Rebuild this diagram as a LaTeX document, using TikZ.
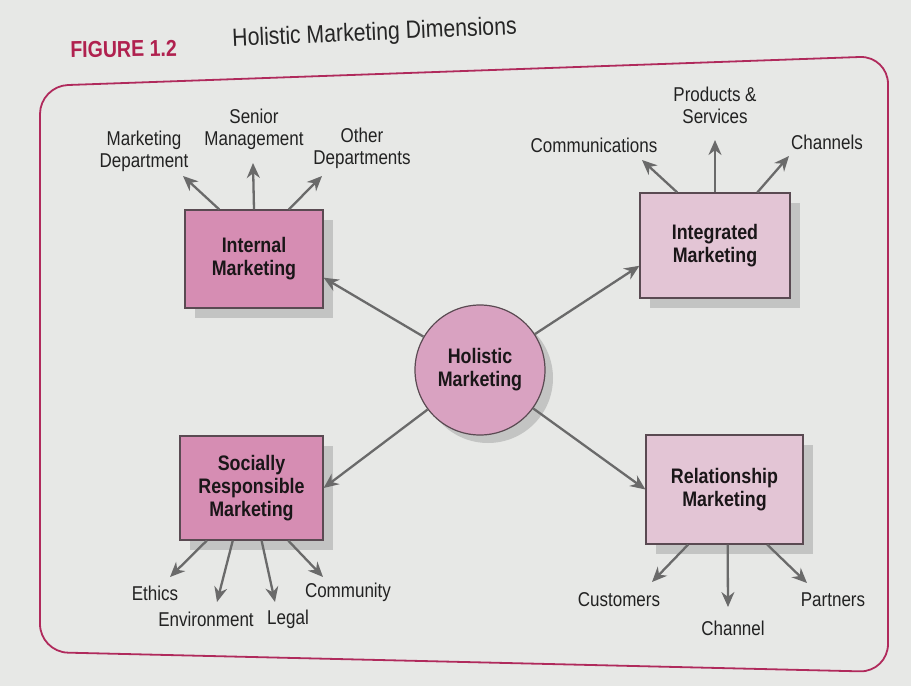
\documentclass[tikz,border=0pt]{standalone}
\usepackage{fontspec}
\setmainfont{Liberation Sans}[FakeStretch=0.85]
\usetikzlibrary{arrows.meta,calc,shadows}

\definecolor{paper}{HTML}{E7E8E6}
\definecolor{framec}{HTML}{B02A5C}
\definecolor{figred}{HTML}{B0214F}
\definecolor{titlec}{HTML}{262626}
\definecolor{pinkdark}{HTML}{D68DB3}
\definecolor{pinklight}{HTML}{E3C5D5}
\definecolor{circc}{HTML}{D9A2C1}
\definecolor{boxline}{HTML}{5A4A52}
\definecolor{boxtextc}{HTML}{1A1618}
\definecolor{labelc}{HTML}{222222}
\definecolor{arrowc}{HTML}{6A6A6A}
\definecolor{shadowc}{HTML}{C3C4C3}

\begin{document}
\begin{tikzpicture}[x=0.5pt,y=-0.5pt,
  arr/.style={draw=arrowc, line width=1.15pt, -{Stealth[length=7.5pt,width=6.5pt]}},
  lbl/.style={font=\fontsize{10}{11}\selectfont, text=labelc, align=center, inner sep=0pt},
  boxtxt/.style={font=\bfseries\fontsize{10.5}{11.5}\selectfont, text=boxtextc, align=center},
  dimbox/.style={boxtxt, draw=boxline, line width=0.6pt, inner sep=0pt,
    drop shadow={shadow xshift=5pt, shadow yshift=-5pt, fill=shadowc, opacity=1}},
  darkbox/.style={dimbox, fill=pinkdark},
  lightbox/.style={dimbox, fill=pinklight},
  frame/.style={draw=framec, line width=0.9pt, rounded corners=14pt}]

% page and outer frame
\useasboundingbox (0,0) rectangle (911,686);
\fill[paper] (0,0) rectangle (911,686);
\draw[frame] (40,86) -- (888,56) -- (888,672) -- (40,652) -- cycle;

% heading
\node[font=\bfseries\fontsize{11.5}{13}\selectfont, text=figred, anchor=west, inner sep=0pt, rotate=1] (fig) at (70,50) {FIGURE 1.2};
\node[font=\fontsize{12.5}{14}\selectfont, text=titlec, anchor=west, inner sep=0pt, rotate=2.5] (ttl) at (232,40) {Holistic Marketing Dimensions};

% centre circle
\node[circle, minimum size=65pt, inner sep=0pt, fill=circc, draw=boxline, line width=0.6pt, boxtxt,
  drop shadow={shadow xshift=4pt, shadow yshift=-4pt, fill=shadowc, opacity=1}] (hm) at (480,370) {Holistic\\Marketing};

% the four dimensions
\node[darkbox,  minimum width=69pt,   minimum height=49pt]   (im) at (254,259)     {Internal\\Marketing};
\node[lightbox, minimum width=75pt,   minimum height=52.5pt] (ig) at (715,245.5)   {Integrated\\Marketing};
\node[darkbox,  minimum width=71.5pt, minimum height=52pt]   (sr) at (251.5,488)   {Socially\\Responsible\\Marketing};
\node[lightbox, minimum width=78.5pt, minimum height=54.5pt] (rm) at (724.5,489.5) {Relationship\\Marketing};

\draw[arr] (hm) -- (im.-15);
\draw[arr] (hm) -- (ig.195);
\draw[arr] (hm) -- (sr.east);
\draw[arr] (hm) -- (rm.west);

% labels
\node[lbl] (mkd) at (144,151) {Marketing\\Department};
\node[lbl] (snm) at (254,129) {Senior\\Management};
\node[lbl] (odp) at (362,148) {Other\\Departments};
\node[lbl] (com) at (594,145) {Communications};
\node[lbl] (prs) at (715,105) {Products \&\\Services};
\node[lbl] (chs) at (827,142) {Channels};
\node[lbl] (eth) at (155,593) {Ethics};
\node[lbl] (env) at (206,619) {Environment};
\node[lbl] (leg) at (288,619) {Legal};
\node[lbl] (cmy) at (348,592) {Community};
\node[lbl] (cus) at (619,600) {Customers};
\node[lbl] (chn) at (733,628) {Channel};
\node[lbl] (ptn) at (833,600) {Partners};

% arrow tips next to the labels
\coordinate (tmkd) at (183,176);
\coordinate (tsnm) at (253,163);
\coordinate (todp) at (322,176);
\coordinate (tcom) at (642,160);
\coordinate (tprs) at (715,140);
\coordinate (tchs) at (789,156);
\coordinate (teth) at (170,577);
\coordinate (tenv) at (217,602);
\coordinate (tleg) at (275,602);
\coordinate (tcmy) at (323,577);
\coordinate (tcus) at (652,582);
\coordinate (tchn) at (728,607);
\coordinate (tptn) at (807,583);

% internal marketing
\draw[arr] ($(im.north west)!0.25!(im.north east)$) -- (tmkd);
\draw[arr] (im.north) -- (tsnm);
\draw[arr] ($(im.north west)!0.75!(im.north east)$) -- (todp);
% integrated marketing
\draw[arr] ($(ig.north west)!0.25!(ig.north east)$) -- (tcom);
\draw[arr] (ig.north) -- (tprs);
\draw[arr] ($(ig.north west)!0.78!(ig.north east)$) -- (tchs);
% socially responsible marketing
\draw[arr] ($(sr.south west)!0.19!(sr.south east)$) -- (teth);
\draw[arr] ($(sr.south west)!0.37!(sr.south east)$) -- (tenv);
\draw[arr] ($(sr.south west)!0.57!(sr.south east)$) -- (tleg);
\draw[arr] ($(sr.south west)!0.755!(sr.south east)$) -- (tcmy);
% relationship marketing
\draw[arr] ($(rm.south west)!0.27!(rm.south east)$) -- (tcus);
\draw[arr] ($(rm.south west)!0.52!(rm.south east)$) -- (tchn);
\draw[arr] ($(rm.south west)!0.77!(rm.south east)$) -- (tptn);
\end{tikzpicture}
\end{document}
